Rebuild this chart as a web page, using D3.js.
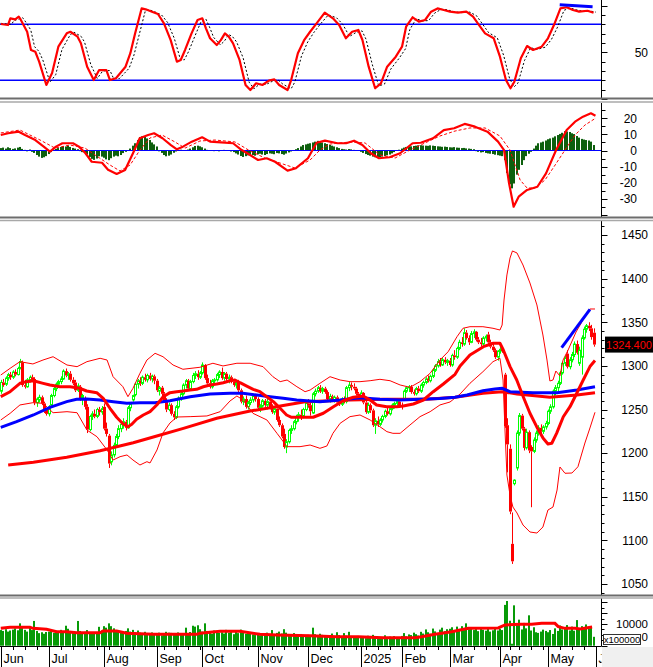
<!DOCTYPE html>
<html>
<head>
<meta charset="utf-8">
<script src="https://cdn.jsdelivr.net/npm/d3@7/dist/d3.min.js"></script>
<style>
html,body{margin:0;padding:0;background:#fff;}
svg{display:block;font-family:Arial,"Liberation Sans",sans-serif;}
</style>
</head>
<body>
<svg id="chart" width="653" height="667"></svg>
<script>
// ---------------- DATA ----------------
const monthLabels = ['Jun','Jul','Aug','Sep','Oct','Nov','Dec','2025','Feb','Mar','Apr','May','J'];
const monthStart  = [0,20,43,65,84,107,128,150,167,187,208,228,248];
const weekStart   = [0,5,10,15,20,25,30,35,40,45,50,55,60,65,68,73,78,83,88,93,98,103,108,113,118,123,128,133,138,143,148,152,157,162,167,172,177,182,187,192,197,202,207,212,216,221,226,228,233,238,243,248];

const priceTicks = [1050,1100,1150,1200,1250,1300,1350,1400,1450];
const macdTicks  = [20,10,0,-10,-20,-30];
const rsiTicks   = [50];
const rsiLevels  = [80,20];
const volTickMain = 10000;
const volTickHidden = 5000;   // its label is mostly hidden behind the unit box; only the last "0" shows
const volUnit    = 'x100000';
const lastPrice  = '1324.400';

// [open, high, low, close]
const ohlcJun = [[1271,1284,1268,1281],[1281,1285,1276,1278],[1279,1288,1277,1286],[1286,1292,1283,1290],[1290,1293,1284,1287],[1287,1295,1285,1293],[1293,1296,1288,1290],[1290,1299,1289,1297],[1297,1308,1296,1305],[1304,1306,1276,1278],[1278,1284,1274,1276],[1276,1286,1275,1284],[1284,1289,1281,1287],[1287,1290,1282,1284],[1285,1287,1255,1258],[1258,1264,1253,1262],[1261,1267,1258,1264],[1264,1266,1255,1257],[1257,1259,1246,1248],[1250,1251,1243,1245]];
const ohlcJul = [[1245,1255,1242,1253],[1255,1268,1253,1266],[1266,1276,1264,1274],[1274,1281,1271,1279],[1279,1284,1276,1282],[1282,1288,1279,1285],[1285,1296,1284,1294],[1294,1297,1287,1289],[1289,1293,1284,1291],[1291,1294,1282,1284],[1284,1287,1278,1280],[1281,1284,1270,1272],[1272,1280,1270,1277],[1276,1278,1260,1262],[1263,1268,1255,1266],[1262,1265,1250,1253],[1253,1256,1223,1227],[1227,1244,1225,1242],[1242,1248,1238,1245],[1245,1250,1240,1242],[1242,1252,1240,1250],[1250,1253,1243,1247],[1247,1254,1244,1251]];
const ohlcAug = [[1253,1257,1226,1228],[1228,1235,1219,1222],[1220,1222,1183,1188],[1190,1202,1186,1198],[1198,1212,1195,1209],[1209,1222,1206,1219],[1219,1232,1216,1228],[1228,1236,1224,1233],[1233,1240,1228,1236],[1236,1238,1226,1229],[1229,1254,1228,1252],[1252,1258,1248,1256],[1261,1267,1259,1266],[1267,1281,1265,1279],[1279,1285,1274,1283],[1283,1287,1277,1280],[1280,1289,1278,1287],[1287,1291,1282,1284],[1284,1291,1281,1289],[1289,1292,1283,1285],[1285,1290,1281,1288],[1288,1290,1279,1283]];
const ohlcSep = [[1283,1285,1270,1272],[1271,1277,1266,1275],[1275,1277,1265,1268],[1268,1270,1258,1260],[1260,1263,1247,1250],[1250,1258,1248,1255],[1255,1257,1243,1245],[1245,1248,1238,1241],[1241,1255,1239,1253],[1253,1265,1251,1263],[1263,1270,1260,1268],[1268,1280,1266,1278],[1278,1285,1274,1283],[1283,1285,1272,1274],[1274,1284,1272,1282],[1282,1292,1280,1289],[1289,1294,1285,1291],[1291,1295,1284,1287],[1287,1294,1285,1292]];
const ohlcOct = [[1292,1304,1290,1301],[1301,1302,1284,1286],[1286,1290,1278,1280],[1280,1284,1274,1276],[1276,1285,1274,1283],[1283,1286,1278,1284],[1284,1292,1282,1290],[1290,1295,1286,1293],[1293,1298,1284,1286],[1286,1293,1283,1291],[1291,1293,1283,1285],[1285,1290,1280,1287],[1287,1289,1280,1282],[1282,1285,1276,1278],[1278,1283,1274,1280],[1282,1284,1270,1272],[1272,1274,1257,1259],[1259,1265,1255,1262],[1262,1266,1251,1253],[1253,1260,1250,1258],[1258,1264,1255,1261],[1261,1268,1258,1266],[1266,1268,1259,1262]];
const ohlcNov = [[1262,1264,1250,1252],[1252,1256,1247,1254],[1254,1262,1252,1260],[1260,1262,1253,1255],[1255,1262,1250,1259],[1259,1261,1250,1252],[1252,1256,1245,1247],[1247,1254,1244,1251],[1251,1253,1236,1238],[1238,1242,1230,1232],[1232,1234,1217,1219],[1222,1228,1205,1207],[1207,1216,1200,1213],[1213,1228,1211,1226],[1226,1232,1222,1228],[1228,1238,1226,1236],[1236,1244,1233,1241],[1241,1247,1236,1244],[1244,1250,1238,1242],[1242,1252,1240,1250],[1250,1260,1248,1257]];
const ohlcDec = [[1257,1262,1252,1255],[1255,1258,1243,1248],[1246,1270,1245,1268],[1268,1274,1265,1271],[1271,1277,1269,1275],[1275,1278,1269,1271],[1271,1276,1268,1274],[1274,1276,1268,1270],[1270,1272,1259,1262],[1262,1268,1258,1265],[1265,1267,1259,1261],[1261,1266,1258,1264],[1264,1266,1256,1258],[1258,1262,1254,1256],[1256,1264,1254,1262],[1262,1265,1257,1259],[1259,1277,1257,1275],[1275,1282,1271,1278],[1278,1281,1272,1276],[1276,1280,1272,1274],[1274,1276,1266,1268],[1268,1270,1262,1266]];
const ohlcJan = [[1266,1272,1263,1269],[1269,1270,1256,1258],[1258,1260,1245,1247],[1247,1258,1245,1255],[1255,1257,1246,1249],[1249,1251,1230,1232],[1232,1240,1222,1237],[1237,1242,1230,1233],[1233,1240,1231,1238],[1238,1244,1235,1242],[1242,1250,1240,1248],[1248,1252,1243,1245],[1245,1253,1243,1251],[1251,1257,1249,1255],[1255,1259,1251,1257],[1257,1262,1254,1259],[1259,1261,1252,1255]];
const ohlcFeb = [[1255,1258,1250,1253],[1262,1273,1260,1271],[1271,1277,1269,1275],[1275,1278,1270,1276],[1276,1278,1268,1270],[1270,1273,1266,1268],[1268,1276,1266,1274],[1274,1277,1269,1271],[1271,1280,1269,1278],[1278,1283,1275,1281],[1281,1287,1279,1285],[1285,1289,1281,1283],[1283,1290,1281,1288],[1288,1297,1286,1295],[1295,1302,1293,1300],[1300,1308,1298,1305],[1305,1309,1299,1301],[1301,1309,1300,1307],[1307,1310,1302,1304],[1304,1308,1300,1306]];
const ohlcMar = [[1306,1309,1299,1301],[1301,1314,1299,1312],[1312,1318,1307,1310],[1310,1322,1308,1320],[1320,1330,1318,1327],[1327,1333,1322,1325],[1325,1343,1323,1338],[1338,1341,1330,1332],[1332,1335,1324,1327],[1327,1340,1326,1337],[1337,1342,1332,1339],[1339,1340,1328,1330],[1330,1333,1325,1327],[1327,1332,1322,1325],[1325,1334,1323,1332],[1332,1336,1328,1334],[1336,1339,1325,1327],[1327,1330,1320,1322],[1322,1326,1316,1318],[1318,1320,1308,1310],[1310,1318,1306,1317]];
const ohlcApr = [[1317,1322,1314,1319],[1319,1322,1315,1317],[1290,1292,1229,1231],[1232,1240,1178,1210],[1205,1210,1130,1133],[1096,1132,1073,1076],[1165,1170,1163,1169],[1183,1226,1180,1223],[1223,1246,1220,1243],[1243,1245,1226,1228],[1228,1230,1203,1206],[1206,1228,1204,1224],[1224,1226,1200,1203],[1207,1209,1138,1202],[1202,1218,1200,1215],[1215,1226,1212,1223],[1223,1232,1220,1229],[1229,1233,1222,1225],[1225,1232,1222,1230],[1230,1237,1227,1234]];
const ohlcMay = [[1234,1250,1232,1248],[1248,1256,1245,1253],[1253,1273,1251,1271],[1271,1278,1266,1275],[1275,1283,1268,1280],[1280,1294,1278,1292],[1292,1305,1290,1303],[1303,1312,1300,1309],[1314,1318,1297,1299],[1299,1310,1296,1307],[1307,1316,1304,1313],[1313,1328,1310,1325],[1325,1329,1313,1315],[1303,1322,1300,1318],[1310,1335,1290,1332],[1332,1345,1330,1342],[1342,1348,1338,1346],[1346,1350,1340,1343],[1343,1347,1330,1333],[1338,1343,1322,1324.4]];

const volJun = [7200,6800,7600,6500,7000,7400,8000,7100,10300,9000,7300,6500,8600,7200,11400,6800,5800,6200,5500,6300];
const volJul = [6500,7400,5900,6900,6700,7300,6500,9200,7800,6100,6000,5600,11400,6800,6000,6400,7200,5500,6100,5800,6300,8700,7000];
const volAug = [9000,8300,10300,9000,8000,6500,7000,6200,5900,6800,8000,6500,7300,6100,7000,6000,5200,6400,5700,5000,6100,5500];
const volSep = [5500,6000,4800,5200,6400,6000,5900,5100,5800,6100,5600,5000,8300,5400,6300,9200,8800,9400,7600];
const volOct = [6500,10300,6800,6100,5500,7000,6700,5900,6200,5600,7300,6000,6900,5300,6600,5800,7400,6300,5500,6100,5800,5200,4900];
const volNov = [5500,4800,5700,5200,6000,4700,7200,5300,5900,6500,5600,7600,6000,5400,4800,5800,5200,4600,5400,5000,4700];
const volDec = [5000,4800,8300,5300,4600,5500,5000,4400,4800,4200,5600,4500,6200,4900,4300,5800,4600,6400,4500,4100,3800,4500];
const volJan = [3800,4200,3500,4600,3900,5000,4400,3600,4000,3300,4800,3700,4200,3500,4400,3900,3600];
const volFeb = [4500,5800,4300,5200,4900,6000,5300,4700,6400,5600,7500,6200,5500,7900,6600,5800,7400,8300,6700,7600];
const volMar = [7800,8500,6900,8800,7400,9000,8100,10300,7600,8400,7200,8000,6700,8600,7300,6900,7800,6500,7100,8200,7000];
const volApr = [7800,7200,18800,20600,11500,900,18600,9500,12000,7500,10500,8000,14000,7000,8500,6200,5900,6500,7400,6800];
const volMay = [6200,7200,5400,8000,6800,9300,7500,8600,9500,7000,8800,6900,11800,7600,9000,8400,9800,7800,8600,4100];

// volume moving average [day index, value]
const volMA = [[0,8000],[3.9,8460],[12.2,8460],[13.4,8000],[19.1,7540],[23.3,6470],[27.5,6470],[31.6,6000],[41.4,6000],[42.6,6770],[48.3,6770],[52.5,5700],[63.6,5240],[81.6,5240],[83,5700],[91.4,6620],[99.7,6620],[108,5240],[115,4930],[128.9,4620],[140,4160],[148.9,4160],[159.3,3700],[172.6,3700],[175.4,4160],[180.9,5240],[187.9,6470],[194.8,8000],[207.3,8160],[210.1,9540],[216.4,9850],[221.2,9850],[225.4,10300],[230.9,10300],[232.3,8770],[235.1,8000],[239.3,8000],[241.4,7700],[246.4,8620]];

// price overlays [day index, price]
const ma20 = [[0,1264.7],[3.9,1270.4],[8,1280],[10.8,1281.9],[13.6,1283],[17.7,1280],[20.5,1278],[24.7,1276.1],[28.9,1276.1],[33,1274.3],[35.8,1271.2],[40,1269.3],[42.7,1262.8],[45.5,1251.4],[48.3,1241.1],[51,1233.4],[53,1230.3],[54.6,1233],[56.6,1238.8],[59.4,1243.7],[62.2,1247.5],[65,1255.2],[67.7,1264.7],[70.5,1269.3],[73.3,1270.4],[76,1271.2],[78.9,1272.3],[81.6,1273.1],[84.4,1276.1],[87.2,1278],[90,1279.2],[92.7,1280.7],[95.5,1283],[97.6,1283.8],[99.7,1280.7],[102.5,1276.9],[105.2,1273.1],[108,1270.4],[110.8,1264.7],[113.6,1259],[116.4,1251.4],[119.1,1243.7],[121.2,1241.1],[124.7,1241.1],[130.2,1241.1],[134.4,1245.7],[138.6,1253.2],[142.7,1260.1],[146.9,1264],[151,1265.5],[153.9,1260.9],[156.6,1255.2],[160.8,1253.2],[165,1253.2],[167.7,1254],[171.9,1256.3],[176.1,1260.9],[180.2,1270.4],[184.4,1279.2],[189.3,1290.3],[191.4,1299.8],[195.5,1312.5],[201.1,1322],[205.2,1325.9],[208,1325.9],[209.4,1318.2],[212.2,1299.2],[215,1283.8],[217.7,1264.7],[220.5,1245.7],[223.3,1230.3],[226,1217],[228,1210.5],[229.6,1211.3],[231.6,1222.7],[234.4,1241.7],[237.2,1253.2],[240,1268.6],[242.7,1283.8],[245.5,1299.2],[247.6,1306.1]];
const bbUpper = [[0,1289.5],[3.9,1297.2],[8,1304.8],[13.4,1302.2],[17.6,1306.7],[21.8,1310.5],[27.6,1301],[31.8,1299.1],[35.9,1304.8],[41.4,1308.7],[44.3,1306.7],[46.8,1287.6],[50.9,1276.1],[53,1264.7],[55.1,1274.3],[58,1291.5],[60.9,1306.7],[64.3,1314.4],[67.6,1310.5],[71.8,1301],[75.9,1296.1],[83,1298.4],[88.4,1303],[92.6,1299.9],[98.4,1303],[103.9,1303],[109.3,1299.1],[113.4,1287.6],[116.4,1281.9],[119.3,1283.8],[123.4,1276.1],[126.8,1270.4],[128.9,1272.3],[133,1280],[137.2,1287.6],[141.4,1283.8],[145.5,1281.9],[149.7,1281.9],[153.9,1283],[158,1284.6],[162.2,1283],[166.4,1278.1],[170.5,1275.4],[174.7,1281.9],[178.9,1291.5],[183,1306.7],[186.4,1316.2],[190.1,1333.4],[192.6,1343.1],[195.5,1344.9],[200.9,1344.9],[205.1,1343.1],[208,1341.1],[208.9,1346.8],[209.7,1375.5],[210.9,1404.2],[212.2,1423.6],[213.2,1431.7],[215.1,1429.4],[217.6,1415.6],[220.5,1395],[223.4,1369.8],[225.9,1335.4],[227.6,1306.7],[228.8,1282.7],[230.1,1283.8],[231.3,1294.1],[233,1288.4],[234.3,1306.7],[236.4,1318.2],[239.7,1338.8],[242.6,1352.6],[245.5,1365.2],[247.6,1365.2]];
const bbLower = [[0,1238],[3.9,1245.6],[8,1255.2],[13.4,1257.8],[17.6,1257.1],[21.8,1246.3],[27.6,1247.5],[31.8,1246.3],[35.9,1226.5],[40.1,1218.8],[44.3,1203.6],[46.8,1192.1],[49.7,1195.9],[52.6,1197.9],[55.1,1192.1],[58,1186.4],[60.9,1190.2],[62.2,1188.7],[65.1,1203.6],[67.6,1223.1],[70.5,1234.5],[73.4,1241.4],[78.9,1241.8],[85.9,1242.6],[91.4,1247.5],[95.5,1259.7],[98.4,1265.5],[100.9,1260.9],[105.1,1245.6],[110.9,1238],[115.1,1222.7],[119.3,1207.4],[124.7,1207.4],[128.9,1209.3],[133,1205.5],[135.9,1208.2],[138.4,1222.7],[141.4,1234.2],[145.5,1241.8],[149.7,1243.7],[153.9,1238],[158,1230.3],[160.9,1224.6],[163.4,1222.7],[166.4,1222.7],[170.5,1232.2],[174.7,1241.8],[178.9,1247.5],[183,1255.2],[187.2,1258.6],[191.4,1267.8],[195.5,1280],[200.9,1293.3],[205.1,1304.8],[208,1308.7],[209.3,1283.8],[210.1,1226.5],[210.9,1174.9],[212.2,1152],[213.4,1138.2],[215.1,1131.4],[217.6,1117.6],[220.5,1109.6],[223.4,1108.4],[225.9,1115.3],[228,1134.8],[230.1,1138.2],[231.8,1157.7],[233,1184.1],[235.1,1176.9],[238,1177.2],[240.5,1184.4],[243.4,1211.6],[245.5,1228.8],[247.6,1246.8]];
const ma50 = [[0,1229.6],[6.6,1236],[13.6,1243.7],[20.5,1252.5],[27.5,1259],[31.6,1261.7],[35.8,1262],[41.4,1260.9],[46.9,1259],[52.5,1257.1],[58,1257.8],[64.3,1257.8],[70.5,1260.1],[78.9,1264.7],[87.2,1267.8],[95.5,1268.6],[100.9,1268.6],[106.6,1266.6],[112.2,1264.7],[117.7,1262.8],[123.3,1260.9],[133,1259],[141.4,1260.9],[149.7,1263.5],[158,1261.7],[166.4,1260.9],[174.7,1261.7],[183,1262.6],[189.3,1264],[194.3,1266.6],[200.9,1271.5],[205.9,1273.5],[208.9,1274.3],[212.2,1270.4],[221.8,1269.3],[231.8,1269.3],[240.1,1272.3],[247.6,1276.1]];
const ma200 = [[3.1,1186.4],[13.6,1189.5],[27.5,1195.2],[41.4,1202.8],[55.2,1211.9],[64.3,1219],[76.1,1228.4],[90,1239.9],[103.9,1248.2],[117.7,1254.6],[126.8,1258.9],[145.5,1260.9],[159.3,1261.7],[177.6,1261.7],[189.3,1264],[200.9,1268.6],[208.9,1270.4],[215.1,1267.8],[228.8,1264],[240.1,1266.6],[247.6,1269.3]];
const priceTrend = [[233.7,1320.8],[245.5,1364.8]];

// RSI panel [day index, value]
const rsi = [[0,80.3],[3,79.2],[4,86.4],[6,85.3],[7.5,88.1],[8,86.4],[11,72],[12.6,52.5],[14.4,50.6],[16,40],[19,15],[21.4,27.8],[24,56],[27.5,70.3],[29,72],[32,66.7],[33.4,59.6],[36,34.6],[38.75,20.3],[41,31],[44,31],[45.5,20.3],[48,22.2],[52,34.6],[54,49],[56,70.3],[58.7,97],[60.4,96],[63,93.5],[65.5,91],[68,81],[70.8,63],[73.4,40],[75,41.8],[76.8,52.5],[79.5,70.3],[82,84.6],[84,86.4],[85.5,75.7],[87.2,65],[90,57.8],[91.7,63],[93.4,70.3],[95,66.7],[96.8,59.6],[99.5,41.8],[102,15],[104,9.6],[106.4,16.8],[109,15],[111.7,19.6],[114,21],[116,15],[119.5,9.6],[121,20.3],[123.8,49],[126.4,63],[128.9,72],[131.6,81],[135,92.4],[138.4,86.4],[141,79.2],[143.8,65],[146.4,72],[149,73.9],[150.7,63.2],[153.3,34.6],[156,11.5],[158.4,16.8],[161,34.6],[164.6,45.3],[167.2,56],[168.9,77.4],[171.6,87.5],[174.2,82.8],[176.8,84.6],[179.3,93.5],[182,97],[184.6,95.3],[187.2,93.5],[190.5,92.4],[194,93.5],[196.8,88.1],[199.3,79.2],[201.8,70.3],[205.4,65],[208,45.3],[210.5,20.3],[212.4,11.5],[214,18.5],[216.7,43.6],[219.3,56.7],[221.8,52.5],[225.4,56],[228,65],[230.5,79.2],[233.2,97],[235.8,98.2],[238.4,95.3],[241,93.5],[244.5,94.5],[247,92.4]];
const rsiSignal = [[0,81],[4.5,80],[5.5,84],[7.5,85.5],[9,87],[9.5,86],[12.5,74],[14.1,56],[15.9,51],[17.5,42],[20.5,18],[22.9,26],[25.5,53],[29,69],[30.5,71.5],[33.5,67],[34.9,61],[37.5,37],[40.2,22],[42.5,30],[45.5,30.5],[47,22],[49.5,22],[53.5,33],[55.5,47],[57.5,67],[60.2,94],[61.9,95.5],[64.5,93],[67,90],[69.5,82],[72.3,65],[74.9,42],[76.5,42],[78.3,51],[81,68],[83.5,83],[85.5,85.5],[87,77],[88.7,66],[91.5,58],[93.2,62],[94.9,69],[96.5,67],[98.3,61],[101,44],[103.5,18],[105.5,11],[107.9,16],[110.5,15.5],[113.2,19],[115.5,20.5],[117.5,16],[121,11],[122.5,18],[125.3,46],[127.9,61],[130.4,71],[133.1,80],[136.5,90],[139.9,87],[142.5,80],[145.3,67],[147.9,71],[150.5,73],[152.2,64],[154.8,37],[157.5,14],[159.9,16],[162.5,32],[166.1,44],[168.7,54],[170.4,74],[173.1,86],[175.7,83.5],[178.3,84],[180.8,92],[183.5,96],[186.1,95.5],[188.7,93.5],[192,92.5],[195.5,93],[198.3,89],[200.8,80],[203.3,71],[206.9,65.5],[209.5,47],[212,22],[213.9,13],[215.5,17],[218.2,41],[220.8,55],[223.3,53],[226.9,55.5],[229.5,64],[232,77],[234.7,95],[237.3,97.5],[239.9,95.5],[242.5,94],[246,94],[248,93]];
const rsiTrend = [[232.9,101],[246.6,98.8]];

// MACD panel
const macd = [[0,9.6],[3.1,10.7],[7.5,11.7],[10.1,9.6],[14.4,6.5],[17.9,2.4],[20.5,-0.7],[23,2.4],[25.7,4.5],[30.1,4.5],[32.6,2.4],[35.3,-1.7],[37.9,-7],[42.2,-7.6],[44.7,-12],[48.3,-14.6],[51.8,-12.1],[55.1,-1.7],[57.9,7.6],[61.4,9.6],[63.9,10.7],[67.4,7.6],[70.9,3.4],[73.4,0.7],[75.9,2.4],[79.6,5.5],[83.9,8.2],[87.2,5.5],[91.8,5.1],[96.8,4.5],[100.4,0.3],[103.9,-2.8],[107.2,-5.9],[110.8,-4.8],[114.3,-7],[119.5,-12.5],[123,-11],[128,-4.8],[131.6,4.8],[135.1,6.1],[140.3,4.5],[143.9,4.5],[147.2,6.1],[150.7,3.4],[154.2,-1.7],[157.6,-4.8],[162,-4.2],[166.4,-1.7],[171.6,4.5],[175,4.8],[180.1,7.6],[184.6,12.7],[188.9,13.8],[193.3,16.5],[197.6,14.8],[202.8,11.7],[207.2,5.5],[209.7,0.3],[211.8,-20.4],[213.7,-34.9],[215.8,-28.7],[219.3,-24.5],[223.6,-22.5],[227.2,-14.2],[231.4,0.3],[235.8,12.7],[239.3,17.9],[242.6,21],[245.9,23.1],[247.8,21.6]];
const macdSignal = [[0,10.9],[8,12.7],[16.4,6.5],[22.6,1.5],[28.9,3.4],[35.1,1.5],[39.3,-2.8],[45.5,-9],[49.7,-12.7],[53.9,-9],[58,0.3],[62.2,7.8],[67.2,9.6],[72.6,5.3],[76.8,1.5],[83,5.9],[89.3,6.5],[97.6,5.3],[103.9,-0.3],[110.1,-4.7],[116.4,-7.8],[122.6,-10.9],[128.9,-5.9],[133,0.3],[137.2,4],[145.5,5.3],[151.8,4.7],[158,-2.8],[164.3,-4.7],[170.5,0.3],[176.8,4.7],[183,9],[189.3,12.1],[195.5,14],[201.8,14],[208,9],[212.2,0.3],[216.4,-18.3],[219.3,-23.3],[222.6,-23.3],[226.8,-18.3],[231,-9],[235.1,0.3],[239.3,9.6],[243.4,15.8],[248,20.2]];
const macdHist = [1.5,1.8,1.2,2.0,1.5,1.0,1.3,1.8,2.2, 1.0,0.4,-0.5,0.6,-0.8, -1.5,-2.8,-3.8,-4.6,-4.2,-3.5,-2.2,-1.0, 0.4,1.0,1.5, 2.2,2.8,2.5,3.0,2.2,1.6,1.2,0.8, -0.4,-1.0,-1.2,-2.5, -4.0,-5.2,-5.8,-5.0,-3.6,-3.8,-4.5,-5.5,-6.0,-4.8,-3.8,-3.2,-3.6,-2.8, -1.6,-0.8,0.3,1.2, 3.0,4.5,6.5,8.4,8.8,8.6,7.5,6.5,5.0,3.8,2.5, -0.5,-1.5,-2.8,-3.6,-3.2,-2.5,-1.4, -0.6,0.2,0.5,-0.3,0.3,0.6, 1.2,2.0,2.8,3.0,2.6,2.0,1.2, 0.4,-0.3,0.2,-0.4,0.3,-0.5,0.2,0.4,-0.3,0.3,-0.6, -1.0,-1.8,-2.5,-3.4,-4.0,-3.5,-3.0,-2.6,-2.8,-3.2,-2.4,-2.0,-2.5,-2.8,-2.2,-1.8,-2.0,-2.3,-1.6,-1.8,-2.2,-2.6,-1.9,-1.2,-0.6, 0.2,0.8,1.5, 2.5,3.4,3.8,4.2,4.5,5.0,5.5,6.0,5.6,5.0,4.5,4.0,3.5,3.0, 2.5,2.0,1.5,1.0,0.8,0.6,0.9,0.7,0.4,0.2,-0.2, -0.8,-1.5,-2.2,-2.8,-3.2,-3.8,-4.2,-4.5,-4.2,-3.8,-3.5,-3.0,-2.5,-1.8,-1.0,-0.3, 0.5,1.2,1.8,2.2,2.5,2.6,2.8,3.0,3.2,3.3,3.1,3.0,2.9,3.2,3.0,2.8,2.6,2.5,2.3,2.4,2.2,2.0,1.9,2.1,1.8,1.7,1.5,1.6,1.3,1.2,1.0,0.8, -0.4,-0.8,-1.2,-1.0,-1.5,-1.8,-2.0,-2.2,-2.6,-2.9,-3.2, -3.5,-6.0,-14.0,-21.0,-23.5,-20.5,-15.0,-12.0,-9.0,-6.0, -3.5,-2.0,-0.8, 1.2,3.0,4.5,5.0,5.5,6.2,7.0,7.5,8.0,8.8,9.6,10.3,11.0,12.0,11.8,11.5,10.7,10.2, 9.0,8.0,7.2,6.8,6.5,6.2,5.5,3.4];

// ---------------- DRAWING ----------------
const ohlc = [].concat(ohlcJun, ohlcJul, ohlcAug, ohlcSep, ohlcOct, ohlcNov, ohlcDec, ohlcJan, ohlcFeb, ohlcMar, ohlcApr, ohlcMay);
const volume = [].concat(volJun, volJul, volAug, volSep, volOct, volNov, volDec, volJan, volFeb, volMar, volApr, volMay);

const svg = d3.select('#chart');
const AX = 601.5;
const RED = '#ff0000', BLUE = '#0000ff', LIME = '#00ff00';

const xS = d3.scaleLinear().domain([0, 247]).range([0.75, 593.55]);
const yR = d3.scaleLinear().domain([0, 100]).range([99, 5.6]);
const yM = d3.scaleLinear().domain([-40, 30]).range([214.9, 102.2]);
const yP = d3.scaleLinear().domain([1050, 1450]).range([584, 235]);
const yV = d3.scaleLinear().domain([0, 20000]).range([645.7, 602.3]);
const px = i => Math.round(xS(i));

const defs = svg.append('defs');
function clip(id, x0, y0, w, h) {
  defs.append('clipPath').attr('id', id).append('rect')
    .attr('x', x0).attr('y', y0).attr('width', w).attr('height', h);
}
clip('cR', 0, 0, AX, 98); clip('cM', 0, 103, AX, 114); clip('cP', 0, 221, AX, 374); clip('cV', 0, 598, AX, 48);
clip('cT', 0, 646, AX, 21);

svg.append('rect').attr('width', 653).attr('height', 667).attr('fill', '#fff');

// ---------- RSI ----------
const gR = svg.append('g').attr('clip-path', 'url(#cR)');
const lineR = d3.line().x(d => xS(d[0])).y(d => yR(d[1]));
rsiLevels.forEach(v => gR.append('line').attr('x1', 0).attr('x2', AX)
  .attr('y1', yR(v)).attr('y2', yR(v)).attr('stroke', BLUE).attr('stroke-width', 1.5));
gR.append('path').datum(rsiSignal).attr('d', lineR).attr('fill', 'none')
  .attr('stroke', '#000').attr('stroke-width', 1).attr('stroke-dasharray', '2,2');
gR.append('path').datum(rsi).attr('d', lineR).attr('fill', 'none')
  .attr('stroke', RED).attr('stroke-width', 2.2).attr('stroke-linejoin', 'round');
gR.append('path').datum(rsiTrend).attr('d', lineR).attr('fill', 'none')
  .attr('stroke', BLUE).attr('stroke-width', 3);

// ---------- MACD ----------
const gM = svg.append('g').attr('clip-path', 'url(#cM)');
const lineM = d3.line().x(d => xS(d[0])).y(d => yM(d[1]));
gM.selectAll('rect.h').data(macdHist).join('rect').attr('class', 'h')
  .attr('x', (d, i) => px(i) - 1).attr('width', 2)
  .attr('y', d => Math.min(yM(d), yM(0))).attr('height', d => Math.abs(yM(d) - yM(0)))
  .attr('fill', '#0d5f0d');
gM.append('line').attr('x1', 0).attr('x2', AX).attr('y1', yM(0)).attr('y2', yM(0))
  .attr('stroke', BLUE).attr('stroke-width', 1);
gM.append('path').datum(macdSignal).attr('d', lineM).attr('fill', 'none')
  .attr('stroke', RED).attr('stroke-width', 1).attr('stroke-dasharray', '3,2');
gM.append('path').datum(macd).attr('d', lineM).attr('fill', 'none')
  .attr('stroke', RED).attr('stroke-width', 2.2).attr('stroke-linejoin', 'round');

// ---------- PRICE ----------
const gP = svg.append('g').attr('clip-path', 'url(#cP)');
const lineP = d3.line().x(d => xS(d[0])).y(d => yP(d[1]));
ohlc.forEach((d, i) => {
  const [o, h, l, c] = d;
  const up = c >= o;
  const col = up ? LIME : RED;
  const cx = px(i) + 0.5;
  const top = yP(Math.max(o, c)), bot = yP(Math.min(o, c));
  gP.append('line').attr('x1', cx).attr('x2', cx).attr('y1', yP(h)).attr('y2', top)
    .attr('stroke', col).attr('stroke-width', 1);
  gP.append('line').attr('x1', cx).attr('x2', cx).attr('y1', bot).attr('y2', yP(l))
    .attr('stroke', col).attr('stroke-width', 1);
  if (up) {
    gP.append('rect').attr('x', px(i) - 0.5).attr('y', top).attr('width', 2)
      .attr('height', Math.max(bot - top, 1)).attr('fill', 'none')
      .attr('stroke', col).attr('stroke-width', 1);
  } else {
    gP.append('rect').attr('x', px(i) - 1).attr('y', top).attr('width', 3)
      .attr('height', Math.max(bot - top, 1)).attr('fill', col);
  }
});
gP.append('path').datum(bbUpper).attr('d', lineP).attr('fill', 'none').attr('stroke', RED).attr('stroke-width', 1);
gP.append('path').datum(bbLower).attr('d', lineP).attr('fill', 'none').attr('stroke', RED).attr('stroke-width', 1);
gP.append('path').datum(ma200).attr('d', lineP).attr('fill', 'none').attr('stroke', RED).attr('stroke-width', 3);
gP.append('path').datum(ma50).attr('d', lineP).attr('fill', 'none').attr('stroke', BLUE).attr('stroke-width', 3);
gP.append('path').datum(ma20).attr('d', lineP).attr('fill', 'none').attr('stroke', RED).attr('stroke-width', 3).attr('stroke-linejoin', 'round');
gP.append('path').datum(priceTrend).attr('d', lineP).attr('fill', 'none').attr('stroke', BLUE).attr('stroke-width', 3);

// ---------- VOLUME ----------
const gV = svg.append('g').attr('clip-path', 'url(#cV)');
gV.selectAll('rect.v').data(volume).join('rect').attr('class', 'v')
  .attr('x', (d, i) => px(i) - 1).attr('width', 2)
  .attr('y', d => yV(d)).attr('height', d => yV(0) - yV(d)).attr('fill', '#079a07');
const lineV = d3.line().x(d => xS(d[0])).y(d => yV(d[1]));
gV.append('path').datum(volMA).attr('d', lineV).attr('fill', 'none').attr('stroke', RED).attr('stroke-width', 3);

// ---------- AXES / FRAME ----------
const axisG = svg.append('g');
function vline(y0, y1) {
  axisG.append('line').attr('x1', AX).attr('x2', AX).attr('y1', y0).attr('y2', y1).attr('stroke', '#000');
}
vline(0, 98); vline(103, 217); vline(221, 595); vline(598, 646);
function tick(y, len) {
  axisG.append('line').attr('x1', AX).attr('x2', AX + len).attr('y1', Math.round(y) + 0.5).attr('y2', Math.round(y) + 0.5)
    .attr('stroke', '#000');
}
function label(txt, x, y, size) {
  return axisG.append('text').attr('x', x).attr('y', y).attr('dy', '0.36em')
    .attr('text-anchor', 'end').attr('font-size', size || 12).attr('fill', '#000').text(txt);
}
// RSI axis
d3.range(0, 101, 10).forEach(v => tick(yR(v), v % 50 === 0 ? 6 : 4));
rsiTicks.forEach(v => label(String(v), 648, yR(v)));
// MACD axis
d3.range(-40, 26, 5).forEach(v => tick(yM(v), v % 10 === 0 ? 6 : 4));
macdTicks.forEach(v => label(String(v), 637, yM(v)));
// Price axis
d3.range(1040, 1461, 10).forEach(v => { const y = yP(v); if (y > 222 && y < 595) tick(y, v % 50 === 0 ? 6 : 3); });
priceTicks.forEach(v => label(String(v), 648, yP(v)));
// Price label box
axisG.append('rect').attr('x', 605).attr('y', yP(1324.4) - 8).attr('width', 48).attr('height', 16).attr('fill', '#000');
axisG.append('text').attr('x', 629).attr('y', yP(1324.4)).attr('dy', '0.36em').attr('text-anchor', 'middle')
  .attr('font-size', 11).attr('fill', RED).text(lastPrice);
// Volume axis
d3.range(0, 22001, 2500).forEach(v => { const y = yV(v); if (y > 598) tick(y, v % 5000 === 0 ? 6 : 3); });
label(String(volTickMain), 648, yV(volTickMain) - 0.5, 11.5);
// only the trailing "0" of the 5000 label is visible beside the unit box
label(String(volTickHidden).slice(-1), 648, yV(volTickHidden) + 2.2, 11.5);
axisG.append('rect').attr('x', 603.5).attr('y', 634.5).attr('width', 37).attr('height', 10)
  .attr('fill', '#fff').attr('stroke', '#333').attr('stroke-width', 1);
axisG.append('text').attr('x', 622).attr('y', 640).attr('dy', '0.33em').attr('text-anchor', 'middle')
  .attr('font-size', 9.5).attr('fill', '#000').text(volUnit);

// panel separators
[[98.5, '#6d6d6d', 2], [102, '#a8a8a8', 1.5], [217.5, '#6d6d6d', 2], [220.5, '#a8a8a8', 1.5], [595.5, '#6d6d6d', 2], [598, '#a8a8a8', 1.5]]
  .forEach(s => axisG.append('line').attr('x1', 0).attr('x2', 653).attr('y1', s[0]).attr('y2', s[0])
    .attr('stroke', s[1]).attr('stroke-width', s[2]));

// time axis
axisG.append('rect').attr('x', 602).attr('y', 647).attr('width', 51).attr('height', 20).attr('fill', '#f0f0f0');
axisG.append('line').attr('x1', 0).attr('x2', AX).attr('y1', 646.5).attr('y2', 646.5).attr('stroke', '#000');
weekStart.forEach(i => {
  const x0 = px(i) + 0.5;
  if (x0 < AX) axisG.append('line').attr('x1', x0).attr('x2', x0).attr('y1', 646).attr('y2', 650).attr('stroke', '#000');
});
const tx = svg.append('g').attr('clip-path', 'url(#cT)');
monthStart.forEach((i, k) => {
  const x0 = px(i) + 0.5;
  tx.append('line').attr('x1', x0).attr('x2', x0).attr('y1', 646).attr('y2', 667).attr('stroke', '#000');
  tx.append('text').attr('x', x0 + 2).attr('y', 663).attr('font-size', 12.5).attr('fill', '#000').text(monthLabels[k]);
});
</script>
</body>
</html>
